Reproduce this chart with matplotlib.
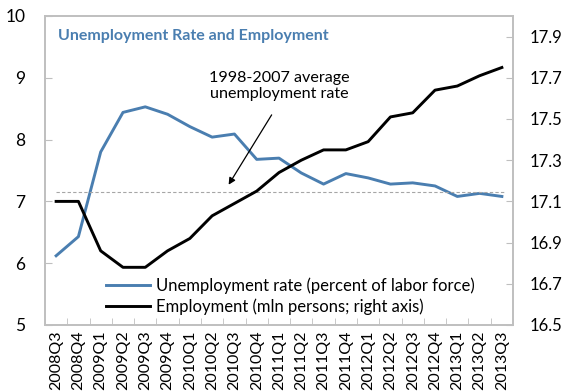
import numpy as np
import matplotlib
matplotlib.use("Agg")
import matplotlib.pyplot as plt

plt.rcParams['font.family'] = ['Lato', 'DejaVu Sans']

# Quarterly data, 2008Q3 - 2013Q3
quarters = ["2008Q3", "2008Q4",
            "2009Q1", "2009Q2", "2009Q3", "2009Q4",
            "2010Q1", "2010Q2", "2010Q3", "2010Q4",
            "2011Q1", "2011Q2", "2011Q3", "2011Q4",
            "2012Q1", "2012Q2", "2012Q3", "2012Q4",
            "2013Q1", "2013Q2", "2013Q3"]
unemployment = [6.12, 6.43, 7.80, 8.44, 8.53, 8.41, 8.21, 8.04, 8.09, 7.68,
                7.70, 7.46, 7.28, 7.45, 7.38, 7.28, 7.30, 7.25, 7.08, 7.13, 7.08]
employment = [17.10, 17.10, 16.86, 16.78, 16.78, 16.86, 16.92, 17.03, 17.09, 17.15,
              17.24, 17.30, 17.35, 17.35, 17.39, 17.51, 17.53, 17.64, 17.66, 17.71, 17.75]
avg_unemployment = 7.16

blue = "#4A7EB0"
grey = "#BFBFBF"

fig = plt.figure(figsize=(5.65, 3.91), dpi=100)
ax = fig.add_axes([0.0796, 0.1688, 0.8284, 0.7903])
ax2 = ax.twinx()

x = np.arange(len(quarters))
l1, = ax.plot(x, unemployment, color=blue, lw=2.1, label="Unemployment rate (percent of labor force)")
ax.plot([x[0], x[-1] + 0.2], [avg_unemployment] * 2, color="#A6A6A6", lw=0.8, ls=(0, (3, 2)))
l2, = ax2.plot(x, employment, color="black", lw=2.1, label="Employment (mln persons; right axis)")

ax.set_xlim(-0.5, len(quarters) - 0.5)
ax.set_ylim(5, 10)
ax2.set_ylim(16.5, 18.0)
ax.set_yticks([5, 6, 7, 8, 9, 10])
ax2.set_yticks([16.5, 16.7, 16.9, 17.1, 17.3, 17.5, 17.7, 17.9])
ax2.set_yticklabels(["16.5", "16.7", "16.9", "17.1", "17.3", "17.5", "17.7", "17.9"])

# category labels centred, tick marks between categories
ax.set_xticks(x)
ax.set_xticklabels(quarters, rotation=90, fontsize=11.5)
ax.set_xticks(np.arange(len(quarters) + 1) - 0.5, minor=True)
ax.tick_params(axis="x", which="major", length=0, pad=4)
ax.tick_params(axis="x", which="minor", direction="in", length=5, color=grey)
ax.tick_params(axis="y", direction="in", length=5, color=grey, labelsize=12.5, pad=14)
ax2.tick_params(axis="y", direction="in", length=5, color=grey, labelsize=12, pad=12)

for a in (ax, ax2):
    for s in a.spines.values():
        s.set_color(grey)
        s.set_linewidth(1.2)

ax.text(0.027, 0.935, "Unemployment Rate and Employment", transform=ax.transAxes,
        color=blue, fontsize=11.5, fontweight="bold", va="center")

ax.text(10.0, 8.87, "1998-2007 average\nunemployment rate", ha="center", va="center",
        fontsize=11.6, linespacing=1.2)
ax.annotate("", xy=(7.74, 7.27), xytext=(9.67, 8.40),
            arrowprops=dict(arrowstyle="-|>", color="black", lw=0.9,
                            shrinkA=0, shrinkB=0, mutation_scale=10))

ax.legend(handles=[l1, l2], loc="lower left", bbox_to_anchor=(0.11, 0.0),
          frameon=False, fontsize=12, handlelength=2.6, handletextpad=0.35,
          labelspacing=0.25, borderaxespad=0.2)

fig.savefig("out.png", dpi=100)
